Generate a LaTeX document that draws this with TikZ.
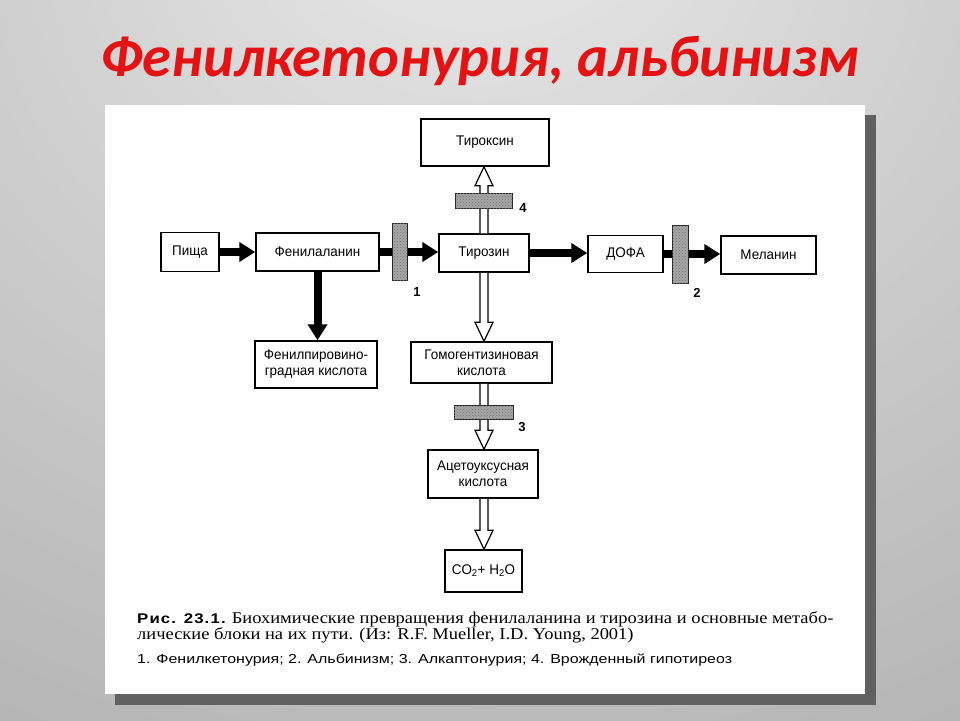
\documentclass[tikz,border=0pt]{standalone}
\usepackage{fontspec}
\setmainfont{Liberation Serif}
\setsansfont{Liberation Sans}
\newfontfamily\titlefont{Carlito}
\newfontfamily\boxfont{Liberation Sans}[FakeStretch=0.96]
\newfontfamily\capserif{Liberation Serif}[FakeStretch=1.12]
\newfontfamily\capsans{Liberation Sans}[FakeStretch=1.23]
\newfontfamily\capbold{Liberation Sans Bold}[FakeStretch=1.2,LetterSpace=8]
\usetikzlibrary{arrows.meta,calc,patterns}
\definecolor{titlered}{RGB}{228,18,18}
\pgfdeclareradialshading{bgshade}{\pgfpoint{0bp}{35bp}}{color(0bp)=(gray!16); color(25bp)=(gray!38); color(55bp)=(gray!62); color(100bp)=(gray!70)}
\newcommand\hollowarrow[2]{%
  \filldraw[hollowstyle] let \p1=(#1), \p2=(#2), \n1={sign(\y2-\y1)} in
    (\x1-4pt,\y1) -- ({\x1-4pt},{\y2-\n1*19pt}) -- ({\x1-9pt},{\y2-\n1*19pt})
    -- (\x1,\y2) -- ({\x1+9pt},{\y2-\n1*19pt}) -- ({\x1+4pt},{\y2-\n1*19pt}) -- (\x1+4pt,\y1);}
\begin{document}
\begin{tikzpicture}[x=1pt,y=-1pt,
  box/.style={draw, line width=1.5pt, fill=white, align=center, inner sep=0pt,
    font=\boxfont\fontsize{14}{16}\selectfont},
  blockbar/.style={draw=black!85, line width=0.8pt, fill=black!35, inner sep=0pt,
    postaction={pattern=crosshatch dots, pattern color=black!55}},
  numlabel/.style={font=\sffamily\bfseries\fontsize{13}{14}\selectfont, inner sep=0pt},
  blackarrow/.style={line width=8pt, -{Triangle[length=16pt,width=19pt]}},
  hollowstyle/.style={draw=black, line width=1.2pt, fill=white, line join=miter}]
\useasboundingbox (0,0) rectangle (960,720);
\shade[shading=bgshade] (0,0) rectangle (960,720);
% panel
\fill[black!62] (115,115) rectangle (876,705);
\fill[white] (105,105) rectangle (865,694);
% title
\node[font=\titlefont\bfseries\itshape\fontsize{58.5}{62}\selectfont, text=titlered, inner sep=0pt]
  (title) at (480,61) {Фенилкетонурия, альбинизм};
% boxes
\node[box, minimum width=58pt, minimum height=39pt] (food) at (190,252) {Пища};
\node[box, minimum width=123pt, minimum height=38pt] (phe) at (317.5,252) {Фенилаланин};
\node[box, minimum width=90pt, minimum height=38pt] (tyr) at (484,253) {Тирозин};
\node[box, minimum width=75pt, minimum height=37pt] (dofa) at (625.5,254) {ДОФА};
\node[box, minimum width=95pt, minimum height=38pt] (mel) at (768.5,255) {Меланин};
\node[box, minimum width=128pt, minimum height=47pt] (thyr) at (485,142.5) {Тироксин};
\node[box, minimum width=122pt, minimum height=47pt] (ppk) at (316,364.5) {Фенилпировино-\\градная кислота};
\node[box, minimum width=141pt, minimum height=41pt] (hga) at (481.5,362.5) {Гомогентизиновая\\кислота};
\node[box, minimum width=110pt, minimum height=48pt] (aca) at (483,474) {Ацетоуксусная\\кислота};
\node[box, minimum width=77pt, minimum height=42pt] (co2) at (483.5,571) {CO\textsubscript{2}+ H\textsubscript{2}O};
% black arrows
\draw[blackarrow] (food.east) -- (phe.west);
\draw[blackarrow] (phe.east) -- (phe.east -| tyr.west);
\draw[blackarrow] (tyr.east) -- (tyr.east -| dofa.west);
\draw[blackarrow] (dofa.east) -- (dofa.east -| mel.west);
\draw[blackarrow] (phe.south) -- (phe.south |- ppk.north);
% hollow arrows
\coordinate (tyrtop) at (tyr.north);
\coordinate (thyrbot) at (tyr.north |- thyr.south);
\hollowarrow{tyrtop}{thyrbot}
\coordinate (tyrbot) at (tyr.south);
\coordinate (hgatop) at (tyr.south |- hga.north);
\hollowarrow{tyrbot}{hgatop}
\coordinate (hgabot) at (tyr.south |- hga.south);
\coordinate (acatop) at (tyr.south |- aca.north);
\hollowarrow{hgabot}{acatop}
\coordinate (acabot) at (tyr.south |- aca.south);
\coordinate (co2top) at (tyr.south |- co2.north);
\hollowarrow{acabot}{co2top}
% metabolic blocks
\node[blockbar, minimum width=15pt, minimum height=57pt] (b1) at (399.5,251.5) {};
\node[blockbar, minimum width=16pt, minimum height=58pt] (b2) at (680,254) {};
\node[blockbar, minimum width=57pt, minimum height=15pt] (b4) at (483.5,200.5) {};
\node[blockbar, minimum width=59pt, minimum height=14pt] (b3) at (483.5,412) {};
\node[numlabel] (n1) at (417,292) {1};
\node[numlabel] (n2) at (697,293) {2};
\node[numlabel] (n4) at (523,208) {4};
\node[numlabel] (n3) at (522,427) {3};
% caption
\node[anchor=base west, inner sep=0pt, font=\capserif\fontsize{16.5}{18}\selectfont] (cap1) at (137,623)
  {{\capbold\fontsize{14}{16}\selectfont Рис. 23.1.} Биохимические превращения фенилаланина и тирозина и основные метабо-};
\node[anchor=base west, inner sep=0pt, font=\capserif\fontsize{16.5}{18}\selectfont] (cap2) at (137,639)
  {лические блоки на их пути. (Из: R.F. Mueller, I.D. Young, 2001)};
\node[anchor=base west, inner sep=0pt, font=\capsans\fontsize{13}{15}\selectfont] (cap3) at (137,663)
  {1. Фенилкетонурия; 2. Альбинизм; 3. Алкаптонурия; 4. Врожденный гипотиреоз};
\end{tikzpicture}
\end{document}
